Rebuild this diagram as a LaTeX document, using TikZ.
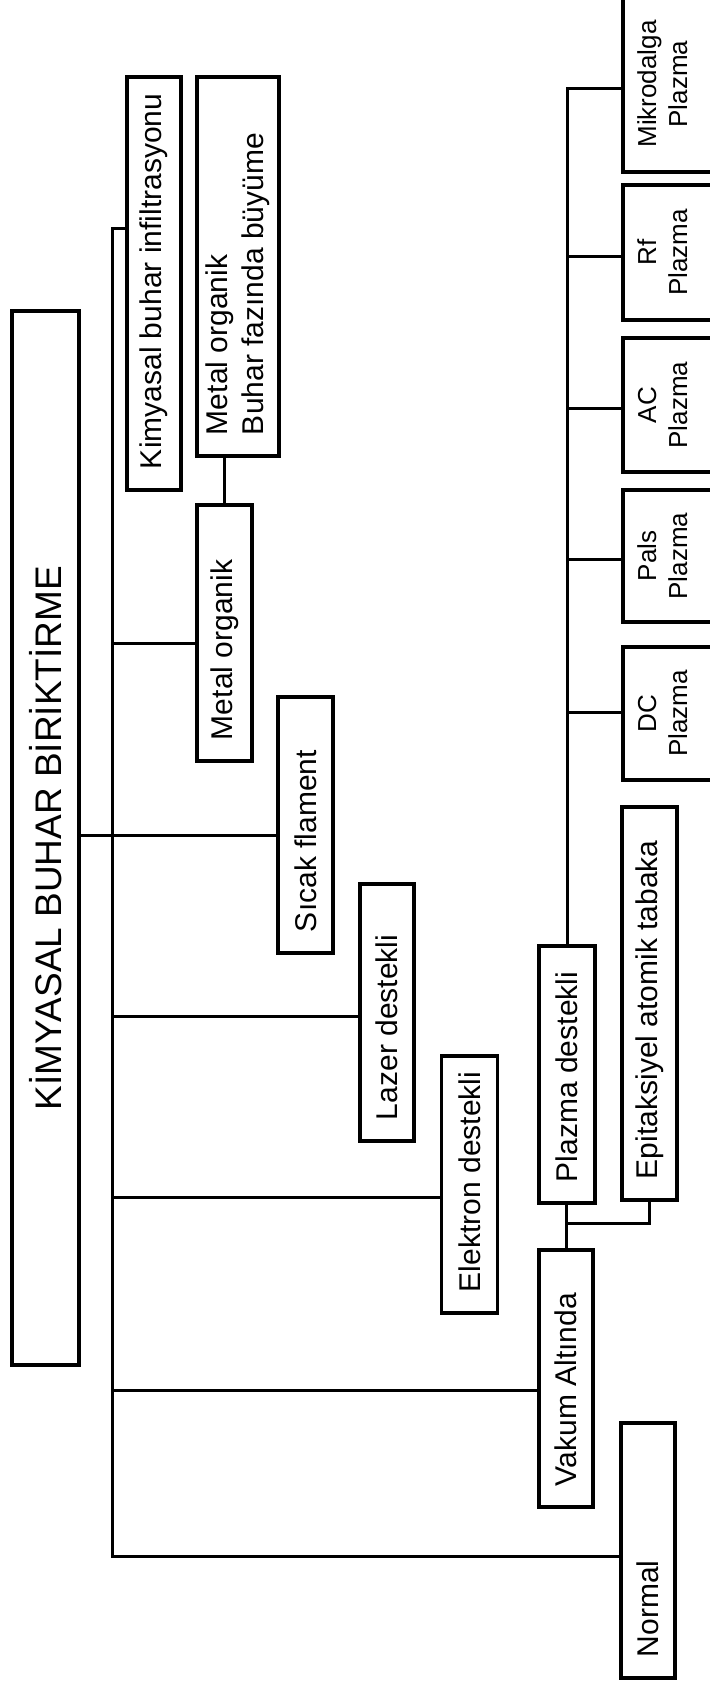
\documentclass[tikz,border=0pt]{standalone}
\usepackage{fontspec}
\setmainfont{Liberation Sans}
\newcommand{\rtxt}[2]{\rotatebox{90}{\makebox[#1][l]{#2}}}
\newcommand{\rtwo}[2]{\hspace*{-11pt}\rotatebox{90}{\begin{tabular}{@{}c@{}}#1\\#2\end{tabular}}}
\begin{document}
\begin{tikzpicture}[x=1pt,y=-1pt,
  box/.style={draw, line width=3.5pt, inner sep=0pt, rectangle, font=\fontsize{30}{36}\selectfont},
  pbox/.style={box, minimum width=96pt, font=\fontsize{26}{31}\selectfont},
  conn/.style={line width=3pt}]
\useasboundingbox (0,0) rectangle (709,1688);

% boxes
\node[box, minimum width=67pt, minimum height=1054pt, font=\fontsize{37}{44}\selectfont] (title) at (45.5,838) {\rotatebox{90}{KİMYASAL BUHAR BİRİKTİRME}};
\node[box, minimum width=54pt, minimum height=413pt] (kbi) at (154,283.5) {\rtxt{371pt}{Kimyasal buhar infiltrasyonu}};
\node[box, minimum width=82pt, minimum height=379pt] (mob) at (238,266.5) {\rotatebox{90}{\makebox[337pt][l]{\begin{tabular}{@{}l@{}}Metal organik\\Buhar fazında büyüme\end{tabular}}}};
\node[box, minimum width=55pt, minimum height=256pt] (mo) at (224.5,633) {\rtxt{214pt}{Metal organik}};
\node[box, minimum width=55pt, minimum height=256pt] (sf) at (305.5,825) {\rtxt{214pt}{Sıcak flament}};
\node[box, minimum width=54pt, minimum height=257pt] (lz) at (387,1012.5) {\rtxt{215pt}{Lazer destekli}};
\node[box, minimum width=56pt, minimum height=257pt] (el) at (469.5,1184.5) {\rtxt{215pt}{Elektron destekli}};
\node[box, minimum width=54pt, minimum height=257pt] (vak) at (566,1378.5) {\rtxt{215pt}{Vakum Altında}};
\node[box, minimum width=54pt, minimum height=255pt] (nor) at (648,1550.5) {\rtxt{213pt}{Normal}};
\node[box, minimum width=56pt, minimum height=257pt] (pd) at (567,1074.5) {\rtxt{215pt}{Plazma destekli}};
\node[box, minimum width=55pt, minimum height=393pt] (epi) at (649.5,1003.5) {\rtxt{351pt}{Epitaksiyel atomik tabaka}};
\node[pbox, minimum height=176pt] (mik) at (671,84) {\rtwo{Mikrodalga}{Plazma}};
\node[pbox, minimum height=135pt] (rf) at (671,252.5) {\rtwo{Rf}{Plazma}};
\node[pbox, minimum height=134pt] (ac) at (671,405) {\rtwo{AC}{Plazma}};
\node[pbox, minimum height=132pt] (pals) at (671,556) {\rtwo{Pals}{Plazma}};
\node[pbox, minimum height=133pt] (dc) at (671,713.5) {\rtwo{DC}{Plazma}};

% trunk and branches
\coordinate (ttop) at (112,229);
\coordinate (tbot) at (112,1556);
\draw[conn] (ttop -| kbi.west) -- (ttop) -- (tbot) -- (tbot -| nor.west);
\coordinate (bmo) at (112,643);
\draw[conn] (bmo) -- (bmo -| mo.west);
\coordinate (bsf) at (112,835);
\draw[conn] (bsf -| title.east) -- (bsf -| sf.west);
\coordinate (blz) at (112,1016);
\draw[conn] (blz) -- (blz -| lz.west);
\coordinate (bel) at (112,1197);
\draw[conn] (bel) -- (bel -| el.west);
\coordinate (bvak) at (112,1390);
\draw[conn] (bvak) -- (bvak -| vak.west);
\draw[conn] (mo.north) -- (mo.north |- mob.south);

% vacuum / plasma
\draw[conn] (vak.north) -- (vak.north |- pd.south);
\coordinate (jep) at (566,1223);
\draw[conn] (jep) -- (jep -| epi.south) -- (epi.south);
\coordinate (ptop) at (567,89);
\draw[conn] (pd.north) -- (pd.north |- ptop) -- (ptop -| mik.west);
\coordinate (brf) at (567,257);
\draw[conn] (brf) -- (brf -| rf.west);
\coordinate (bac) at (567,408);
\draw[conn] (bac) -- (bac -| ac.west);
\coordinate (bpals) at (567,559);
\draw[conn] (bpals) -- (bpals -| pals.west);
\coordinate (bdc) at (567,712);
\draw[conn] (bdc) -- (bdc -| dc.west);
\end{tikzpicture}
\end{document}
